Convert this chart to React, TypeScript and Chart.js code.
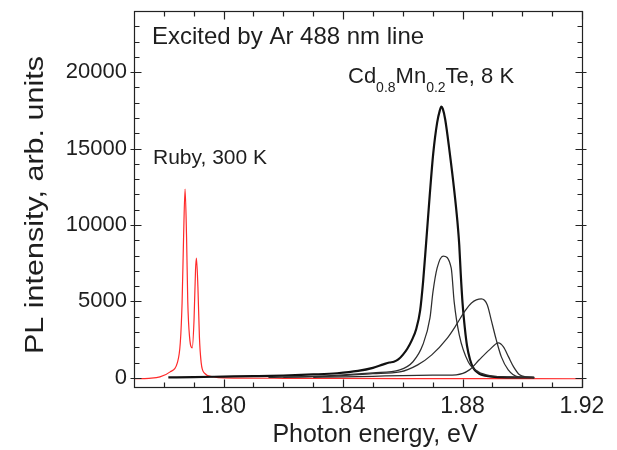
import React, { useEffect, useRef } from "react";
import { Chart, registerables } from "chart.js";

Chart.register(...registerables);

// ---- axis ticks ----
const xMajorTicks = [1.80, 1.84, 1.88, 1.92];
const xMinorTicks = [1.78, 1.79, 1.81, 1.82, 1.83, 1.85, 1.86, 1.87, 1.89, 1.90, 1.91];
const yMajorTicks = [0, 5000, 10000, 15000, 20000];
const yMinorTicks = [1000, 2000, 3000, 4000, 6000, 7000, 8000, 9000, 11000, 12000, 13000, 14000, 16000, 17000, 18000, 19000, 21000, 22000, 23000];

// ---- Ruby, 300 K (red) ----
const rubyE = [1.770, 1.775, 1.7787, 1.7821, 1.7845, 1.7855, 1.7861, 1.7866, 1.7871, 1.7876, 1.7880, 1.7886, 1.7895, 1.7901, 1.7906, 1.7909, 1.7914, 1.7919, 1.7925, 1.7935, 1.7966, 1.800, 1.820, 1.860, 1.920];
const rubyI = [-60, -30, 60, 390, 980, 2290, 4900, 9200, 12350, 9200, 5000, 2680, 1960, 3790, 7060, 7840, 5950, 2680, 980, 330, 65, 0, -30, -50, -60];

// ---- Cd0.8Mn0.2Te, 8 K main spectrum (thick) ----
const mainE = [1.7815, 1.790, 1.800, 1.810, 1.820, 1.830, 1.838, 1.845, 1.850, 1.8535, 1.8555, 1.857, 1.8585, 1.8600, 1.8615, 1.8630, 1.8645, 1.8658, 1.8668, 1.8678, 1.8690, 1.8702, 1.8715, 1.8724, 1.8729, 1.8734, 1.8742, 1.8756, 1.8772, 1.8783, 1.8789, 1.8794, 1.8800, 1.8808, 1.8815, 1.8825, 1.8836, 1.8850, 1.8863, 1.8897, 1.896, 1.904];
const mainI = [30, 50, 80, 110, 150, 220, 300, 450, 650, 880, 1000, 1050, 1200, 1500, 1900, 2450, 3200, 4400, 6300, 8800, 11900, 14700, 16700, 17500, 17750, 17600, 16900, 14900, 12300, 10200, 8700, 6800, 4900, 3200, 2100, 1200, 650, 350, 200, 80, 30, 20];

// ---- thin component spectra ----
const comp1E = [1.815, 1.820, 1.830, 1.840, 1.850, 1.859, 1.8634, 1.8667, 1.8691, 1.8701, 1.8715, 1.8735, 1.8762, 1.8772, 1.8789, 1.8819, 1.8853, 1.890, 1.895, 1.904];
const comp1I = [30, 50, 100, 200, 330, 520, 1050, 2160, 3920, 5620, 7190, 7970, 7190, 4970, 2810, 1050, 390, 120, 50, 20];

const comp2E = [1.820, 1.830, 1.840, 1.850, 1.859, 1.865, 1.8697, 1.8749, 1.8779, 1.8806, 1.883, 1.8863, 1.8883, 1.8896, 1.8913, 1.893, 1.8953, 1.8987, 1.904];
const comp2I = [30, 80, 150, 280, 390, 850, 1500, 2600, 3460, 4310, 4900, 5160, 4770, 3790, 2480, 1370, 520, 65, 20];

const comp3E = [1.830, 1.840, 1.850, 1.860, 1.870, 1.8779, 1.8823, 1.8856, 1.8890, 1.8920, 1.8937, 1.8954, 1.8971, 1.8991, 1.9014, 1.904];
const comp3I = [30, 60, 100, 150, 170, 200, 520, 1180, 1830, 2290, 2030, 1370, 720, 200, 65, 20];

const toPts = (xs: number[], ys: number[]) => xs.map((x, i) => ({ x, y: ys[i] }));

const FONT = "'Liberation Sans', Arial, Helvetica, sans-serif";
const TXT = "#1e1e1e";

const framePlugin = {
  id: "framePlugin",
  afterDraw(chart: any) {
    const { ctx, chartArea: a, scales } = chart;
    const xs = scales.x;
    const ys = scales.y;
    ctx.save();
    ctx.strokeStyle = "#222";
    ctx.lineWidth = 1.2;
    const L = Math.round(a.left) + 0.5;
    const R = Math.round(a.right) + 0.5;
    const T = Math.round(a.top) + 0.5;
    const B = Math.round(a.bottom) + 0.5;
    ctx.strokeRect(L, T, R - L, B - T);
    ctx.beginPath();
    const xt = (v: number, len: number) => {
      const p = Math.round(xs.getPixelForValue(v)) + 0.5;
      ctx.moveTo(p, B);
      ctx.lineTo(p, B - len);
      ctx.moveTo(p, T);
      ctx.lineTo(p, T + len);
    };
    const yt = (v: number, len: number, out: number) => {
      const p = Math.round(ys.getPixelForValue(v)) + 0.5;
      ctx.moveTo(L - out, p);
      ctx.lineTo(L + len, p);
      ctx.moveTo(R + out, p);
      ctx.lineTo(R - len, p);
    };
    xMajorTicks.forEach((v) => xt(v, 8));
    xMinorTicks.forEach((v) => xt(v, 5));
    yMajorTicks.forEach((v) => yt(v, 7, 4));
    yMinorTicks.forEach((v) => yt(v, 5, 0));
    ctx.stroke();

    ctx.fillStyle = TXT;
    ctx.textBaseline = "alphabetic";

    // axis titles
    ctx.textAlign = "center";
    ctx.font = `25px ${FONT}`;
    ctx.fillText("Photon energy, eV", 375, 442);

    ctx.save();
    ctx.translate(43, 205);
    ctx.rotate(-Math.PI / 2);
    ctx.font = `25px ${FONT}`;
    const yt1 = "PL intensity, arb. units";
    const w = ctx.measureText(yt1).width;
    ctx.scale(298 / w, 1);
    ctx.fillText(yt1, 0, 0);
    ctx.restore();

    // annotations
    ctx.textAlign = "left";
    ctx.font = `24px ${FONT}`;
    ctx.fillText("Excited by Ar 488 nm line", 152, 44);

    ctx.font = `21px ${FONT}`;
    ctx.fillText("Ruby, 300 K", 153, 164);

    const big = `22px ${FONT}`;
    const small = `14px ${FONT}`;
    const parts: [string, boolean][] = [["Cd", false], ["0.8", true], ["Mn", false], ["0.2", true], ["Te, 8 K", false]];
    let cx = 348;
    for (const [t, sub] of parts) {
      ctx.font = sub ? small : big;
      ctx.fillText(t, cx, sub ? 92 : 83);
      cx += ctx.measureText(t).width;
    }
    ctx.restore();
  },
};

export default function App() {
  const ref = useRef<HTMLCanvasElement | null>(null);
  useEffect(() => {
    if (!ref.current) return;
    const thin = { borderColor: "#2e2e2e", borderWidth: 1.25, pointRadius: 0, fill: false, cubicInterpolationMode: "monotone" as const };
    const chart = new Chart(ref.current, {
      type: "line",
      data: {
        datasets: [
          { label: "comp3", data: toPts(comp3E, comp3I), ...thin },
          { label: "comp2", data: toPts(comp2E, comp2I), ...thin },
          { label: "comp1", data: toPts(comp1E, comp1I), ...thin },
          { label: "main", data: toPts(mainE, mainI), borderColor: "#111", borderWidth: 2.2, pointRadius: 0, fill: false, cubicInterpolationMode: "monotone" as const },
          { label: "ruby", data: toPts(rubyE, rubyI), borderColor: "#ff2a2a", borderWidth: 1.2, pointRadius: 0, fill: false, cubicInterpolationMode: "monotone" as const },
        ],
      },
      options: {
        animation: false,
        responsive: false,
        maintainAspectRatio: false,
        layout: { padding: { left: 0, top: 11, right: 35, bottom: 0 } },
        plugins: { legend: { display: false }, tooltip: { enabled: false } },
        scales: {
          x: {
            type: "linear",
            min: 1.77,
            max: 1.92,
            afterBuildTicks: (s: any) => { s.ticks = xMajorTicks.map((v) => ({ value: v })); },
            afterFit: (s: any) => { s.height = 63; s.paddingLeft = 0; s.paddingRight = 0; },
            grid: { display: false, drawTicks: false },
            border: { display: false },
            ticks: { color: TXT, font: { family: FONT, size: 23 }, padding: 6, maxRotation: 0, callback: (v: any) => Number(v).toFixed(2) },
            title: { display: false },
          },
          y: {
            type: "linear",
            min: -600,
            max: 24000,
            afterBuildTicks: (s: any) => { s.ticks = yMajorTicks.map((v) => ({ value: v })); },
            afterFit: (s: any) => { s.width = 134; s.paddingTop = 0; s.paddingBottom = 0; },
            grid: { display: false, drawTicks: false },
            border: { display: false },
            ticks: { color: TXT, font: { family: FONT, size: 22 }, padding: 7, callback: (v: any) => String(v) },
            title: { display: false },
          },
        },
      },
      plugins: [framePlugin],
    });
    return () => chart.destroy();
  }, []);
  return (
    <div style={{ position: "absolute", left: 0, top: 0, width: 617, height: 450, background: "#fff" }}>
      <canvas ref={ref} width={617} height={450} style={{ display: "block" }} />
    </div>
  );
}
